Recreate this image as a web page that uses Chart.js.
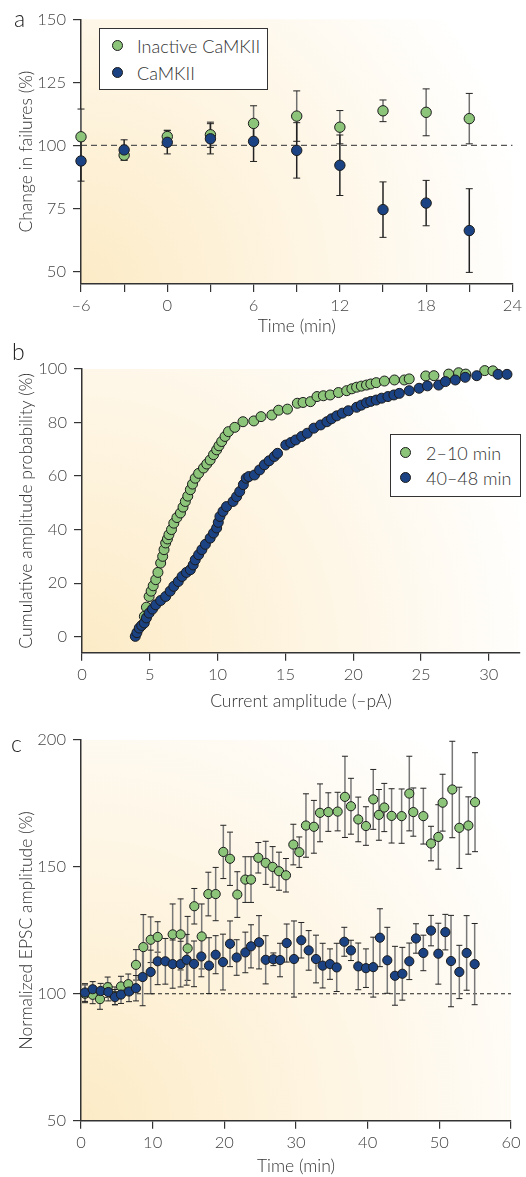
<!DOCTYPE html>
<html>
<head>
<meta charset="utf-8">
<script src="https://cdn.jsdelivr.net/npm/chart.js@4.4.0/dist/chart.umd.min.js"></script>
<style>
body{margin:0;background:#fff;width:526px;height:1177px;position:relative;overflow:hidden;font-family:Lato,Roboto,sans-serif;font-weight:300;color:#333}
canvas{position:absolute;left:0}
.lbl{position:absolute;font-size:23px;color:#222;line-height:22px}
.legend{position:absolute;border:1px solid #333;background:#fff;font-size:18px;color:#333;box-sizing:border-box}
.legend span{position:absolute;white-space:nowrap;line-height:20px}
.dot{position:absolute;width:9px;height:9px;border-radius:50%;border:1px solid #1c1c1c}
</style>
</head>
<body>
<canvas id="chartA" width="526" height="340" style="top:0"></canvas>
<canvas id="chartB" width="526" height="375" style="top:340px"></canvas>
<canvas id="chartC" width="526" height="462" style="top:715px"></canvas>

<div class="lbl" style="left:14px;top:7px">a</div>
<div class="lbl" style="left:12px;top:340px">b</div>
<div class="lbl" style="left:11px;top:732px">c</div>

<div class="legend" style="left:99px;top:28px;width:169px;height:62px">
  <div class="dot" style="left:12px;top:11px;background:#8cc47a"></div>
  <span style="left:37px;top:7px">Inactive CaMKII</span>
  <div class="dot" style="left:12px;top:38px;background:#1b4282"></div>
  <span style="left:37px;top:34px">CaMKII</span>
</div>

<div class="legend" style="left:390px;top:434px;width:131px;height:63px">
  <div class="dot" style="left:9px;top:12px;background:#8cc47a"></div>
  <span style="left:35px;top:8px">2–10 min</span>
  <div class="dot" style="left:9px;top:37px;background:#1b4282"></div>
  <span style="left:35px;top:33px">40–48 min</span>
</div>

<script>
// panel a: failures
const aTime = [-6, -3, 0, 3, 6, 9, 12, 15, 18, 21]
const aInactive = [103.4, 96.1, 103.5, 104.2, 108.7, 111.6, 107.2, 113.7, 113.1, 110.6]
const aInactiveErr = [11, 2, 2.5, 5, 7, 10, 6.6, 4.3, 9.3, 10]
const aCamk = [93.8, 98.2, 101.2, 102.6, 101.6, 98.0, 92.1, 74.5, 77.1, 66.2]
const aCamkErr = [8, 4, 4.6, 6, 8, 11, 12, 11, 9, 16.6]
const aXTicks = [-6, -3, 0, 3, 6, 9, 12, 15, 18, 21, 24]
const aYTicks = [50, 75, 100, 125, 150]

// panel b: cumulative amplitude, [amplitude, probability]
const bEarly = [[4.6,7.6],[4.75,11],[4.95,15],[5.1,17],[5.25,19],[5.44,21.3],[5.6,24],[5.8,27.5],[5.95,30],[6.05,32.5],
  [6.17,35],[6.3,36.5],[6.41,38.1],[6.6,40],[6.77,42.4],[7.0,44.5],[7.26,46.2],[7.45,48.4],[7.62,50.5],[7.8,52.5],
  [7.99,54.9],[8.15,57],[8.35,59.2],[8.6,61],[8.96,63],[9.2,64.5],[9.45,66],[9.7,68],[9.93,69.8],[10.1,71.3],
  [10.3,72.9],[10.55,74.8],[10.8,76.6],[11.27,78.2],[11.87,80.3],[12.67,80.6],[13.2,82.2],[14.0,82.8],[14.5,84.6],[15.15,85],
  [15.88,87.2],[16.3,87.5],[16.85,87.8],[17.33,89.7],[17.8,90],[18.3,90.3],[18.91,91.2],[19.52,91.9],[19.9,92.6],[20.25,93.2],
  [20.6,93.6],[20.98,94.0],[21.3,94.4],[21.7,94.9],[22.3,95.5],[23.04,95.9],[23.77,95.9],[24.13,96.3],[25.35,97.4],[25.95,97.5],
  [27.04,98.1],[27.77,98.6],[28.3,98.1],[29.7,99.4],[30.3,99.3]]
const bLate = [[3.93,0.1],[4.05,1.5],[4.22,3.2],[4.4,4.2],[4.59,5.1],[4.75,7],[4.95,8.8],[5.2,10.3],[5.44,11.9],[5.8,13.5],
  [6.17,15],[6.5,17],[6.77,18.8],[7.1,20.6],[7.38,22.5],[7.7,24],[7.99,25],[8.2,26.8],[8.35,28.7],[8.6,30.6],
  [8.84,32.5],[9.1,34.5],[9.45,36.8],[9.7,38.7],[9.93,40.6],[10.05,42.7],[10.17,44.9],[10.4,46.8],[10.66,48.6],[11.14,50.5],
  [11.4,52.3],[11.63,54.2],[11.9,56.8],[12.11,59.2],[12.3,59.8],[12.72,60.4],[13.1,62.3],[13.45,64.2],[13.8,65.7],[14.18,67.3],
  [14.42,68.5],[15.03,71.6],[15.4,72.5],[15.76,73.5],[16.2,74.8],[16.61,76],[17.1,77.9],[17.6,79.1],[18.06,80.3],[18.4,81.4],
  [18.79,82.5],[19.2,83.5],[19.64,84.4],[20.25,85.7],[20.6,86.5],[20.98,87.4],[21.3,87.9],[21.7,88.4],[22.1,89.1],[22.56,89.7],
  [23.0,90.3],[23.4,90.9],[24.13,91.9],[24.86,92.8],[25.47,93.7],[26.3,94],[26.8,95.3],[27.53,95.9],[28.26,96.9],[29.11,97.5],
  [30.68,98],[31.34,98]]
const bXTicks = [0, 5, 10, 15, 20, 25, 30]
const bYTicks = [0, 20, 40, 60, 80, 100]

// panel c: EPSC amplitude, [time, mean, error]
const cInactive = [[0.56,100,3.5],[1.63,99.6,3.5],[2.65,97.9,4],[3.72,102.6,4],[4.74,99.2,3.5],[5.58,102.9,4],[6.6,103.8,4],
  [7.67,111.4,6],[8.7,118.4,12.8],[9.72,121.3,9],[10.7,122.4,6],[12.79,123.4,12],[13.9,123.4,14],[14.88,117.9,12.6],
  [15.81,134.5,7],[16.84,122.6,12.8],[17.77,139.3,8.6],[18.79,139.3,10.5],[19.86,155.9,10.5],[20.79,153.2,10.5],[21.81,139.1,9],
  [22.93,145,9],[23.72,145,9],[24.74,153.6,6],[25.77,151.6,8.5],[26.74,150,8],[27.63,148.3,7.5],[28.6,146.7,6.6],
  [29.63,158.8,8],[30.46,155.8,6],[31.39,166.3,12.5],[32.5,165.8,10.4],[33.35,171.3,11.4],[34.51,171.6,7.6],[35.81,171.8,7.6],
  [36.83,177.6,16],[37.67,173.9,11],[38.69,168.7,8.8],[39.76,166.1,7.6],[40.78,176.6,11.8],[41.57,170.5,10],[42.32,173.4,9.5],
  [43.34,170.1,10.7],[44.74,170,10.7],[45.81,178.9,14.7],[46.37,171.6,9.5],[47.77,170,11],[48.84,159.2,6.8],[49.86,161.8,12.7],
  [50.46,175.3,11.2],[51.81,180.5,19],[52.79,165.4,16],[54.05,166.3,11.3],[54.98,175.5,19.5]]
const cCamk = [[0.56,100.5,3.5],[1.63,101.8,3],[2.74,101.1,3],[3.81,100.7,3.5],[4.74,98.7,3],[5.58,99.7,3.5],[6.7,100.9,4],
  [7.67,102.2,5],[8.6,106.6,11.3],[9.72,108.6,8.6],[10.7,112.8,9.2],[11.77,112.8,9],[12.79,111.7,9.5],[13.9,111.7,9],
  [14.74,113.4,10],[15.77,111.8,9],[16.79,114.7,8],[17.86,111.1,11],[18.79,115.4,7.5],[19.81,112.5,11],[20.79,119.7,9],
  [21.72,114.3,7],[22.93,116.3,8],[23.72,118.7,8.5],[24.84,120.3,10.5],[25.77,113.4,9.5],[26.84,113.6,2.5],[27.77,113.3,6.6],
  [28.7,120,7.5],[29.72,113.7,15],[30.74,121.1,7],[31.77,117.1,7.8],[32.79,113.7,9.4],[33.72,111.1,8.8],[34.74,111.7,6],
  [35.68,110.4,9.5],[36.74,120.5,5.7],[37.67,117.1,4],[38.69,110.8,9.2],[39.76,110.1,7.6],[40.78,110.5,11.8],[41.71,122.1,11.4],
  [42.74,113.2,13],[43.81,107.1,11.6],[44.84,107.9,10.4],[45.81,112.8,7.2],[46.74,121.8,5.8],[47.77,116.1,7],[48.84,124.9,6],
  [49.86,115.8,12],[50.84,124.3,7],[51.63,112.9,18],[52.79,108.6,10.5],[53.81,116.1,14.7],[54.93,111.7,16]]
const cXTicks = [0, 10, 20, 30, 40, 50, 60]
const cYTicks = [50, 100, 150, 200]

const GREEN = '#8cc47a', BLUE = '#1b4282', INK = '#333'

Chart.defaults.font.family = 'Lato, Roboto, sans-serif'
Chart.defaults.font.weight = '300'
Chart.defaults.color = '#444'

// cream background, dashed reference line and error bars, all drawn via the scales
const extras = {
  id: 'extras',
  beforeDraw(chart) {
    const {ctx, chartArea: ca} = chart
    const w = ca.right - ca.left, h = ca.bottom - ca.top
    const g = ctx.createRadialGradient(ca.left, ca.bottom, 0, ca.left, ca.bottom, Math.hypot(w, h))
    g.addColorStop(0, '#fcebc6')
    g.addColorStop(0.45, '#fef5e3')
    g.addColorStop(0.9, '#ffffff')
    ctx.save()
    ctx.fillStyle = g
    ctx.fillRect(ca.left, ca.top, w, h)
    ctx.restore()
  },
  beforeDatasetsDraw(chart, args, opts) {
    const {ctx, scales: {x, y}} = chart
    ctx.save()
    if (opts.refY !== undefined) {
      ctx.setLineDash(opts.dash)
      ctx.strokeStyle = opts.refColor
      ctx.lineWidth = 1.1
      ctx.beginPath()
      const py = y.getPixelForValue(opts.refY)
      ctx.moveTo(x.getPixelForValue(x.min), py)
      ctx.lineTo(x.getPixelForValue(x.max), py)
      ctx.stroke()
      ctx.setLineDash([])
    }
    chart.data.datasets.forEach(ds => {
      if (!ds.errors) return
      ds.data.forEach((p, i) => {
        const e = ds.errors[i]
        const px = x.getPixelForValue(p.x)
        const top = y.getPixelForValue(p.y + e)
        const bot = y.getPixelForValue(p.y - e)
        ctx.strokeStyle = ds.stemColor
        ctx.lineWidth = 1.5
        ctx.beginPath(); ctx.moveTo(px, top); ctx.lineTo(px, bot); ctx.stroke()
        ctx.strokeStyle = '#222'
        ctx.lineWidth = 1
        ctx.beginPath()
        ctx.moveTo(px - opts.cap, top); ctx.lineTo(px + opts.cap, top)
        ctx.moveTo(px - opts.cap, bot); ctx.lineTo(px + opts.cap, bot)
        ctx.stroke()
      })
    })
    ctx.restore()
  }
}

function axis(min, max, ticks, title, pad, fit, horizontal, labelFn) {
  return {
    type: 'linear', min: min, max: max,
    afterBuildTicks: s => { s.ticks = ticks.map(v => ({value: v})) },
    afterFit: s => { if (horizontal) s.height = fit; else s.width = fit },
    grid: {drawOnChartArea: false, drawTicks: true, tickLength: 8, color: INK, lineWidth: 1.2},
    border: {display: true, color: INK, width: 1.5},
    ticks: {autoSkip: false, maxRotation: 0, padding: horizontal ? 4 : 7, font: {size: 16.5}, color: '#444',
      callback: labelFn || (v => String(v).replace('-', '–'))},
    title: {display: true, text: title, font: {size: 17.5}, color: INK,
      padding: horizontal ? {top: 0, bottom: pad} : {top: pad, bottom: 0}}
  }
}

function pts(xs, ys) { return xs.map((t, i) => ({x: t, y: ys[i]})) }

function dotSet(label, data, color, r, order, errors, stem) {
  return {label: label, data: data, backgroundColor: color, borderColor: '#1c1c1c', borderWidth: 1,
    pointRadius: r, pointHoverRadius: r, showLine: false, clip: false, order: order,
    errors: errors, stemColor: stem}
}

function baseOptions(padding, scales, extra) {
  return {
    responsive: false, animation: false, events: [],
    layout: {padding: padding},
    plugins: {legend: {display: false}, tooltip: {enabled: false}, extras: extra},
    scales: scales
  }
}

new Chart(document.getElementById('chartA'), {
  type: 'scatter',
  data: {datasets: [
    dotSet('Inactive CaMKII', pts(aTime, aInactive), GREEN, 5.2, 2, aInactiveErr, '#707070'),
    dotSet('CaMKII', pts(aTime, aCamk), BLUE, 5.2, 1, aCamkErr, '#222')
  ]},
  options: baseOptions({left: 0, right: 9.3, top: 19.3, bottom: 0}, {
    x: axis(-6, 24, aXTicks, 'Time (min)', 3.5, 56, true, v => (v % 6 === 0 ? String(v).replace('-', '–') : '')),
    y: axis(45, 150, aYTicks, 'Change in failures (%)', 16, 81, false)
  }, {refY: 100, dash: [6, 4], refColor: '#555', cap: 3.5}),
  plugins: [extras]
})

new Chart(document.getElementById('chartB'), {
  type: 'scatter',
  data: {datasets: [
    dotSet('2–10 min', bEarly.map(p => ({x: p[0], y: p[1]})), GREEN, 5, 2),
    dotSet('40–48 min', bLate.map(p => ({x: p[0], y: p[1]})), BLUE, 5, 1)
  ]},
  options: baseOptions({left: 0, right: 0, top: 29, bottom: 0}, {
    x: axis(0, 32.3, bXTicks, 'Current amplitude (–pA)', 3.5, 62.3, true),
    y: axis(-6, 100, bYTicks, 'Cumulative amplitude probability (%)', 16, 82, false)
  }, {}),
  plugins: [extras]
})

new Chart(document.getElementById('chartC'), {
  type: 'scatter',
  data: {datasets: [
    dotSet('Inactive CaMKII', cInactive.map(p => ({x: p[0], y: p[1]})), GREEN, 4.6, 2, cInactive.map(p => p[2]), '#777'),
    dotSet('CaMKII', cCamk.map(p => ({x: p[0], y: p[1]})), BLUE, 4.6, 1, cCamk.map(p => p[2]), '#777')
  ]},
  options: baseOptions({left: 0, right: 15, top: 25, bottom: 0}, {
    x: axis(0, 60, cXTicks, 'Time (min)', 0, 56.3, true),
    y: axis(50, 200, cYTicks, 'Normalized EPSC amplitude (%)', 16, 81, false)
  }, {refY: 100, dash: [4, 3], refColor: '#222', cap: 3}),
  plugins: [extras]
})
</script>
</body>
</html>
